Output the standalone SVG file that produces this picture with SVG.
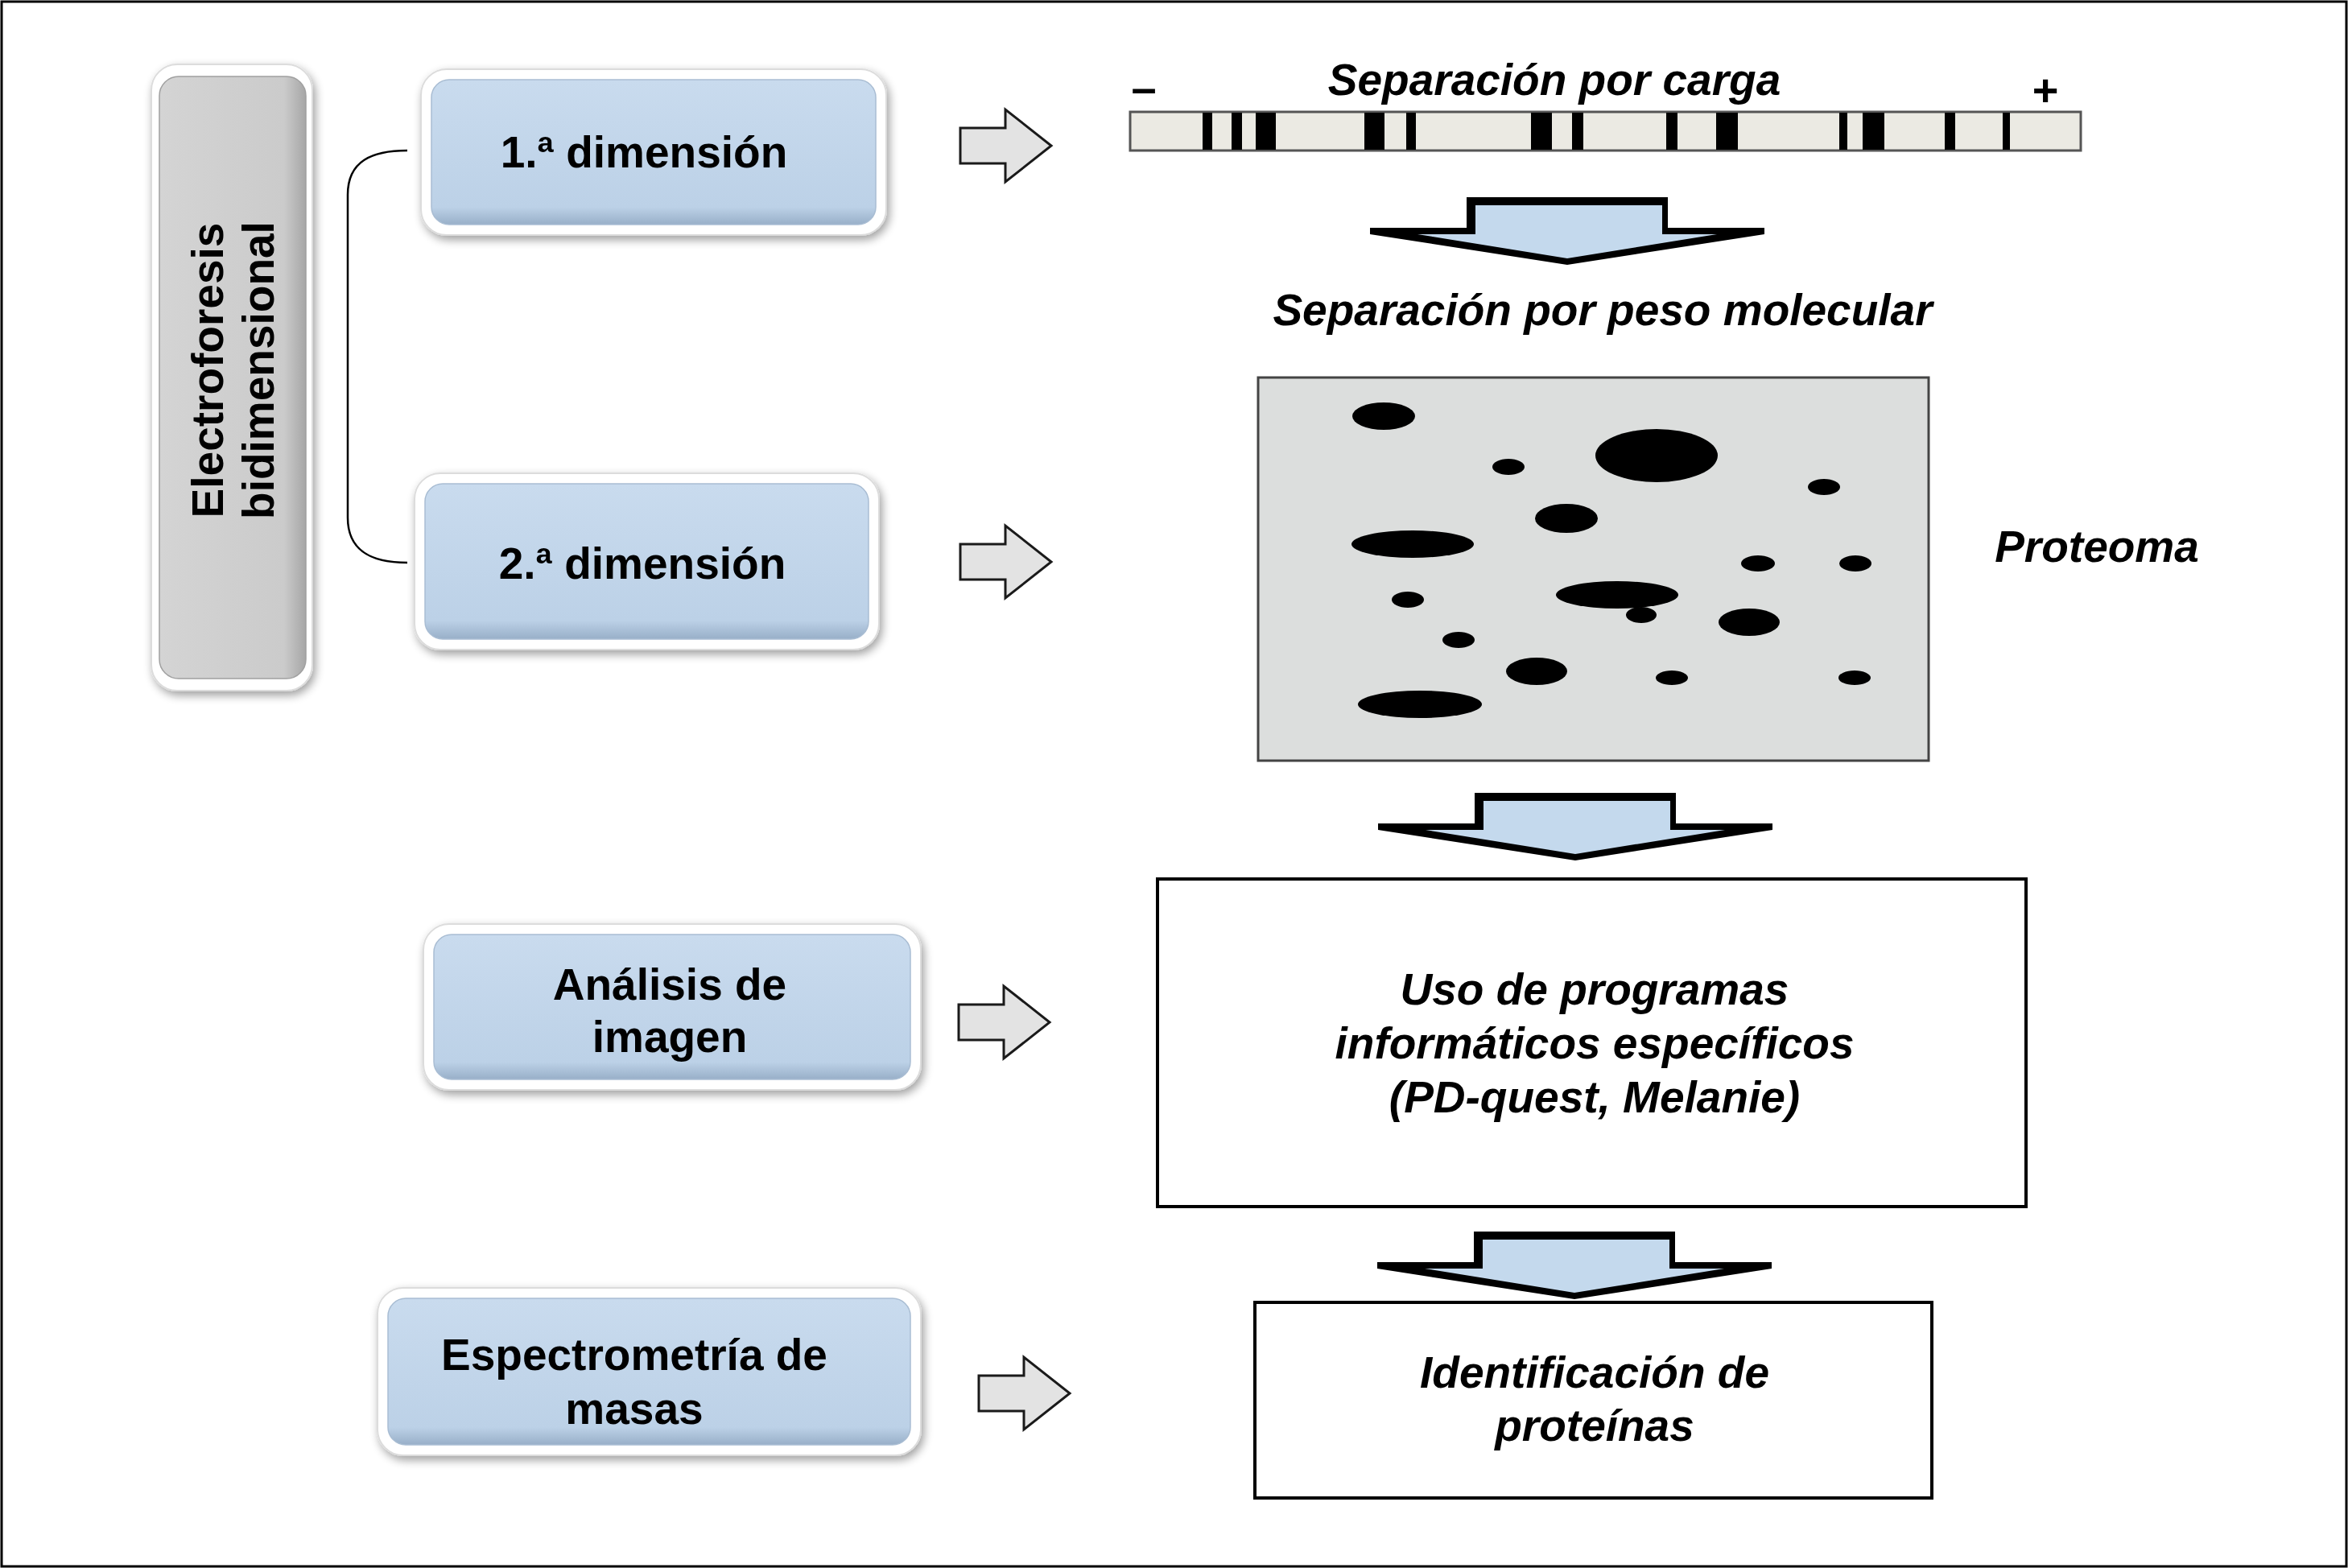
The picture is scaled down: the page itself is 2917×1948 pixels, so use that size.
<svg xmlns="http://www.w3.org/2000/svg" width="2917" height="1948" viewBox="0 0 2917 1948">
<defs>
<style>
.t{font-family:"Liberation Sans",Arial,Helvetica,sans-serif;font-weight:bold;font-size:55px;fill:#000;text-anchor:middle}
.i{font-style:italic}
.sign{font-family:"Liberation Sans",Arial,Helvetica,sans-serif;font-weight:bold;font-size:56px;fill:#000;text-anchor:middle}
.glow{fill:#fff;stroke:#dcdcdc;stroke-width:2}
.blue{fill:url(#gBlue);stroke:#a9bdd3;stroke-width:1.5}
.grey{fill:url(#gGrey);stroke:#a0a0a0;stroke-width:1.5}
.frame{fill:#fff;stroke:#000;stroke-width:4}
.rarrow{fill:#e3e3e3;stroke:#1a1a1a;stroke-width:3;stroke-linejoin:miter}
.band{fill:#000}
.spot{fill:#000}
</style>
<linearGradient id="gBlue" x1="0" y1="0" x2="0" y2="1">
<stop offset="0" stop-color="#c9dbee"/>
<stop offset="0.88" stop-color="#bcd1e7"/>
<stop offset="1" stop-color="#98afc8"/>
</linearGradient>
<linearGradient id="gGrey" x1="0" y1="0" x2="1" y2="0">
<stop offset="0" stop-color="#d4d4d4"/>
<stop offset="0.85" stop-color="#cbcbcb"/>
<stop offset="1" stop-color="#a6a6a6"/>
</linearGradient>
<filter id="shadow" x="-10%" y="-10%" width="125%" height="130%">
<feGaussianBlur in="SourceAlpha" stdDeviation="6"/>
<feOffset dx="3" dy="5"/>
<feComponentTransfer><feFuncA type="linear" slope="0.38"/></feComponentTransfer>
<feMerge><feMergeNode/><feMergeNode in="SourceGraphic"/></feMerge>
</filter>
<g id="downArrow">
<polygon points="-125,0 125,0 125,38 245,38 245,46 0,84 -245,46 -245,38 -125,38" fill="#000"/>
<polygon points="-114,10 118,10 118,46 186,46 0,76 -186,46 -114,46" fill="#c4d9ed"/>
</g>
<polygon id="rightArrow" class="rarrow" points="0,-22 56,-22 56,-45 113,0 56,45 56,22 0,22"/>
</defs>

<rect x="0" y="0" width="2917" height="1948" fill="#fff"/>
<rect x="2" y="2" width="2913" height="1944" fill="none" stroke="#000" stroke-width="3"/>

<g id="electroforesis">
<rect class="glow" x="188" y="80" width="200" height="778" rx="32" filter="url(#shadow)"/>
<rect class="grey" x="198" y="95" width="182" height="748" rx="24"/>
<text class="t" transform="translate(277,460) rotate(-90)">Electroforesis</text>
<text class="t" transform="translate(340,460) rotate(-90)">bidimensional</text>
</g>

<g id="dim1">
<rect class="glow" x="523" y="86" width="578" height="206" rx="32" filter="url(#shadow)"/>
<rect class="blue" x="536" y="99" width="552" height="180" rx="22"/>
<text class="t" x="800" y="208">1.ª dimensión</text>
</g>

<g id="dim2">
<rect class="glow" x="515" y="588" width="577" height="219" rx="32" filter="url(#shadow)"/>
<rect class="blue" x="528" y="601" width="551" height="193" rx="22"/>
<text class="t" x="798" y="719">2.ª dimensión</text>
</g>

<g id="analisis">
<rect class="glow" x="526" y="1148" width="618" height="206" rx="32" filter="url(#shadow)"/>
<rect class="blue" x="539" y="1161" width="592" height="180" rx="22"/>
<text class="t" x="832" y="1242">Análisis de</text>
<text class="t" x="832" y="1307">imagen</text>
</g>

<g id="espectrometria">
<rect class="glow" x="469" y="1600" width="675" height="208" rx="32" filter="url(#shadow)"/>
<rect class="blue" x="482" y="1613" width="649" height="182" rx="22"/>
<text class="t" x="788" y="1702">Espectrometría de</text>
<text class="t" x="788" y="1769">masas</text>
</g>

<g id="carga">
<text class="t i" x="1931" y="118">Separación por carga</text>
<text class="sign" x="1421" y="128">–</text>
<text class="sign" x="2541" y="131">+</text>
<rect x="1404" y="139" width="1181" height="48" fill="#ebeae3" stroke="#555" stroke-width="3"/>
<rect class="band" x="1494" y="140" width="12" height="46"/>
<rect class="band" x="1530" y="140" width="13" height="46"/>
<rect class="band" x="1560" y="140" width="25" height="46"/>
<rect class="band" x="1695" y="140" width="25" height="46"/>
<rect class="band" x="1747" y="140" width="12" height="46"/>
<rect class="band" x="1902" y="140" width="26" height="46"/>
<rect class="band" x="1953" y="140" width="14" height="46"/>
<rect class="band" x="2070" y="140" width="14" height="46"/>
<rect class="band" x="2132" y="140" width="27" height="46"/>
<rect class="band" x="2285" y="140" width="10" height="46"/>
<rect class="band" x="2314" y="140" width="27" height="46"/>
<rect class="band" x="2416" y="140" width="13" height="46"/>
<rect class="band" x="2488" y="140" width="9" height="46"/>
</g>

<g id="peso">
<text class="t i" x="1991" y="404">Separación por peso molecular</text>
</g>

<g id="proteoma">
<rect x="1563" y="469" width="833" height="476" fill="#dcdedd" stroke="#444" stroke-width="3"/>
<ellipse class="spot" cx="1719" cy="517" rx="39" ry="17"/>
<ellipse class="spot" cx="2058" cy="566" rx="76" ry="33"/>
<ellipse class="spot" cx="1874" cy="580" rx="20" ry="10"/>
<ellipse class="spot" cx="2266" cy="605" rx="20" ry="10"/>
<ellipse class="spot" cx="1946" cy="644" rx="39" ry="18"/>
<ellipse class="spot" cx="1755" cy="676" rx="76" ry="17"/>
<ellipse class="spot" cx="2184" cy="700" rx="21" ry="10"/>
<ellipse class="spot" cx="2305" cy="700" rx="20" ry="10"/>
<ellipse class="spot" cx="2009" cy="739" rx="76" ry="17"/>
<ellipse class="spot" cx="2039" cy="764" rx="19" ry="10"/>
<ellipse class="spot" cx="2173" cy="773" rx="38" ry="17"/>
<ellipse class="spot" cx="1749" cy="745" rx="20" ry="10"/>
<ellipse class="spot" cx="1812" cy="795" rx="20" ry="10"/>
<ellipse class="spot" cx="1909" cy="834" rx="38" ry="17"/>
<ellipse class="spot" cx="2077" cy="842" rx="20" ry="9"/>
<ellipse class="spot" cx="2304" cy="842" rx="20" ry="9"/>
<ellipse class="spot" cx="1764" cy="875" rx="77" ry="17"/>
<text class="t i" x="2605" y="698">Proteoma</text>
</g>

<g id="programas">
<rect class="frame" x="1438" y="1092" width="1079" height="407"/>
<text class="t i" x="1981" y="1248">Uso de programas</text>
<text class="t i" x="1981" y="1315">informáticos específicos</text>
<text class="t i" x="1981" y="1382">(PD-quest, Melanie)</text>
</g>

<g id="identificacion">
<rect class="frame" x="1559" y="1618" width="841" height="243"/>
<text class="t i" x="1981" y="1724">Identificación de</text>
<text class="t i" x="1981" y="1790">proteínas</text>
</g>

<g id="connectors">
<path d="M506,187 C462,187 432,200 432,242 L432,643 C432,685 462,699 506,699" fill="none" stroke="#000" stroke-width="2.5"/>
<use href="#rightArrow" x="1193" y="181"/>
<use href="#rightArrow" x="1193" y="698"/>
<use href="#rightArrow" x="1191" y="1270"/>
<use href="#rightArrow" x="1216" y="1731"/>
<use href="#downArrow" x="1947" y="245"/>
<use href="#downArrow" x="1957" y="985"/>
<use href="#downArrow" x="1956" y="1530"/>
</g>
</svg>
